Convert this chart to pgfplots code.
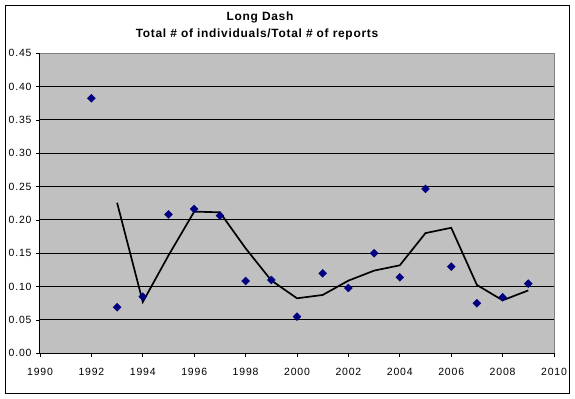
\documentclass[border=0pt]{standalone}
\usepackage{pgfplots}
\pgfplotsset{compat=1.18}
\usepackage{fontspec}
\setmainfont{Liberation Sans}
\newfontfamily\tickfont[LetterSpace=8]{Liberation Sans}
\newfontfamily\titlefont[LetterSpace=6]{Liberation Sans}
\definecolor{plotgray}{RGB}{192,192,192}
\definecolor{bordergray}{RGB}{128,128,128}
\definecolor{navy}{RGB}{0,0,128}
\begin{document}
\begin{tikzpicture}
\path[use as bounding box] (0bp,0bp) rectangle (575bp,399bp);
\draw[black, line width=1bp] (5.5bp,5.5bp) rectangle (569.5bp,393.5bp);
\node[anchor=base, font=\titlefont\bfseries\fontsize{12}{14}\selectfont] at (260bp,378bp) {Long Dash};
\node[anchor=base, font=\titlefont\bfseries\fontsize{12}{14}\selectfont] at (257bp,361bp) {Total \# of individuals/Total \# of reports};
\begin{axis}[
  at={(40bp,45.7bp)}, anchor=south west,
  width=514bp, height=300bp, scale only axis,
  xmin=1990, xmax=2010, ymin=0, ymax=0.45,
  xtick={1990,1992,...,2010},
  ytick={0,0.05,...,0.45},
  axis x line*=bottom, axis y line*=left,
  axis line style={-, black, line width=1bp},
  axis background/.style={fill=plotgray},
  tick align=outside, major tick length=4bp,
  tick style={black, line width=0.8bp},
  ymajorgrids, grid style={black, line width=1bp},
  /pgf/number format/assume math mode=true,
  ticklabel style={font=\tickfont\fontsize{10.5}{12}\selectfont},
  yticklabel style={xshift=-1bp, /pgf/number format/.cd, fixed, fixed zerofill, precision=2},
  xticklabel style={yshift=-7bp, /pgf/number format/.cd, set thousands separator={}},
  clip=false,
]
\addplot[only marks, mark=square*, mark size=2.8bp, mark options={rotate=45, fill=navy, draw=navy}] coordinates {
(1992,0.3825) (1993,0.069) (1994,0.085) (1995,0.2085) (1996,0.2165)
(1997,0.2065) (1998,0.1085) (1999,0.110) (2000,0.055) (2001,0.120)
(2002,0.098) (2003,0.150) (2004,0.114) (2005,0.2465) (2006,0.130)
(2007,0.075) (2008,0.084) (2009,0.1045)
};
\addplot[black, line width=1.7bp, mark=none] coordinates {
(1993,0.2258) (1994,0.077) (1995,0.1468) (1996,0.2125) (1997,0.2115)
(1998,0.1575) (1999,0.1093) (2000,0.0825) (2001,0.0875) (2002,0.109)
(2003,0.124) (2004,0.132) (2005,0.1803) (2006,0.1883) (2007,0.1025)
(2008,0.0795) (2009,0.0943)
};
\draw[bordergray, line width=1bp] (rel axis cs:0,1) -- (rel axis cs:1,1) -- (rel axis cs:1,0);
\end{axis}
\end{tikzpicture}
\end{document}
